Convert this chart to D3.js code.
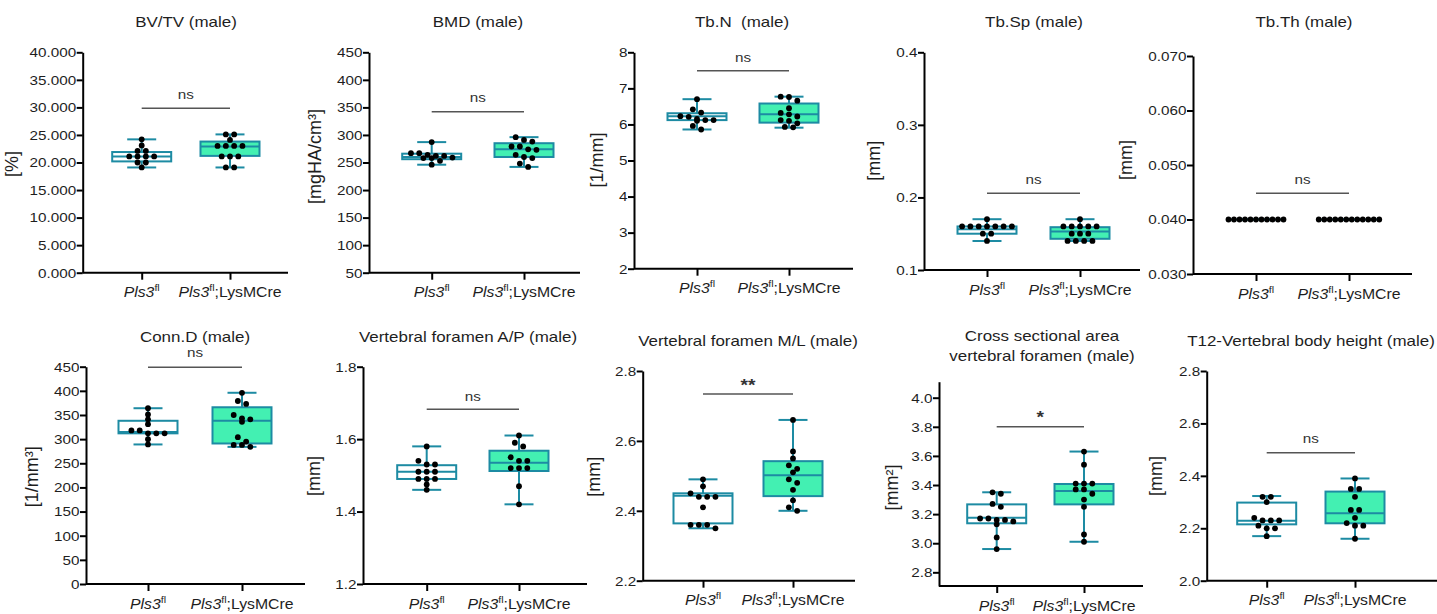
<!DOCTYPE html>
<html>
<head>
<meta charset="utf-8">
<script src="https://cdn.jsdelivr.net/npm/d3@7"></script>
<style>
  body { margin: 0; background: #fff; }
  svg { display: block; font-family: "Liberation Sans", Arial, sans-serif; }
</style>
</head>
<body>
<svg id="chart" width="1437" height="614"></svg>
<script>
// Group labels (italic gene name + superscript + suffix)
const groupNames = ["Pls3", "Pls3"];
const groupSups = ["fl", "fl"];
const groupSuffix = ["", ";LysMCre"];

const titles = [
  ["BV/TV (male)"], ["BMD (male)"], ["Tb.N \u00a0(male)"], ["Tb.Sp (male)"], ["Tb.Th (male)"],
  ["Conn.D (male)"], ["Vertebral foramen A/P (male)"], ["Vertebral foramen M/L (male)"],
  ["Cross sectional area", "vertebral foramen (male)"], ["T12-Vertebral body height (male)"]
];
const yLabels = ["[%]", "[mgHA/cm³]", "[1/mm]", "[mm]", "[mm]", "[1/mm³]", "[mm]", "[mm]", "[mm²]", "[mm]"];
const sigLabels = ["ns", "ns", "ns", "ns", "ns", "ns", "ns", "**", "*", "ns"];

// Individual animals
const bvtvFl  = [24.2, 23.1, 22.1, 22.1, 21.1, 21.1, 21.1, 21.1, 20.0, 20.0, 19.1];
const bvtvCre = [25.1, 25.1, 24.1, 23.0, 23.0, 23.0, 23.0, 21.1, 21.1, 21.1, 19.1, 19.1];
const bmdFl   = [287, 267, 267, 264, 262, 262, 259, 258, 258, 253, 246];
const bmdCre  = [296, 291, 288, 279, 279, 274, 273, 264, 260, 258, 248, 242];
const tbnFl   = [6.70, 6.42, 6.33, 6.23, 6.21, 6.15, 6.12, 6.12, 6.10, 5.96, 5.86];
const tbnCre  = [6.77, 6.76, 6.66, 6.45, 6.32, 6.28, 6.22, 6.12, 6.10, 6.03, 5.93, 5.92];
const tbspFl  = [0.17, 0.16, 0.16, 0.16, 0.16, 0.16, 0.16, 0.16, 0.15, 0.15, 0.14];
const tbspCre = [0.17, 0.16, 0.16, 0.16, 0.16, 0.16, 0.15, 0.15, 0.15, 0.14, 0.14, 0.14, 0.14];
const tbthFl  = [0.04, 0.04, 0.04, 0.04, 0.04, 0.04, 0.04, 0.04, 0.04, 0.04, 0.04];
const tbthCre = [0.04, 0.04, 0.04, 0.04, 0.04, 0.04, 0.04, 0.04, 0.04, 0.04, 0.04, 0.04];
const conndFl  = [364, 351, 341, 331, 318, 318, 312, 312, 312, 300, 289];
const conndCre = [396, 379, 373, 350, 343, 341, 336, 304, 295, 288, 288, 284];
const apFl  = [1.58, 1.54, 1.53, 1.53, 1.51, 1.51, 1.51, 1.49, 1.49, 1.49, 1.475, 1.46];
const apCre = [1.61, 1.59, 1.58, 1.55, 1.54, 1.54, 1.52, 1.52, 1.52, 1.47, 1.42];
const mlFl  = [2.49, 2.47, 2.45, 2.44, 2.44, 2.44, 2.41, 2.36, 2.36, 2.36, 2.35];
const mlCre = [2.66, 2.57, 2.55, 2.53, 2.52, 2.51, 2.49, 2.48, 2.46, 2.43, 2.41, 2.40];
const csaFl  = [3.35, 3.34, 3.27, 3.25, 3.17, 3.17, 3.16, 3.16, 3.15, 3.13, 3.04, 2.96];
const csaCre = [3.63, 3.54, 3.41, 3.41, 3.41, 3.37, 3.37, 3.34, 3.30, 3.25, 3.06, 3.01];
const t12Fl  = [2.32, 2.32, 2.30, 2.24, 2.23, 2.23, 2.23, 2.21, 2.20, 2.20, 2.17];
const t12Cre = [2.39, 2.35, 2.35, 2.32, 2.27, 2.27, 2.24, 2.22, 2.21, 2.21, 2.16];

// Box stats [min, q1, median, q3, max]
const bvtvBoxFl  = [19.1, 20.2, 21.1, 21.9, 24.2];
const bvtvBoxCre = [19.1, 21.2, 22.9, 23.8, 25.1];
const bmdBoxFl   = [246, 256, 260, 266, 287];
const bmdBoxCre  = [242, 260, 274, 285, 296];
const tbnBoxFl   = [5.86, 6.12, 6.23, 6.31, 6.70];
const tbnBoxCre  = [5.91, 6.05, 6.28, 6.58, 6.77];
const tbspBoxFl  = [0.14, 0.15, 0.156, 0.16, 0.17];
const tbspBoxCre = [0.14, 0.143, 0.153, 0.159, 0.17];
const tbthBoxFl  = [0.04, 0.04, 0.04, 0.04, 0.04];
const tbthBoxCre = [0.04, 0.04, 0.04, 0.04, 0.04];
const conndBoxFl  = [289, 312, 315, 338, 364];
const conndBoxCre = [284, 291, 338, 366, 396];
const apBoxFl  = [1.46, 1.49, 1.51, 1.528, 1.58];
const apBoxCre = [1.42, 1.512, 1.535, 1.568, 1.61];
const mlBoxFl  = [2.35, 2.364, 2.443, 2.45, 2.49];
const mlBoxCre = [2.40, 2.442, 2.502, 2.542, 2.66];
const csaBoxFl  = [2.96, 3.137, 3.175, 3.267, 3.35];
const csaBoxCre = [3.01, 3.267, 3.359, 3.407, 3.63];
const t12BoxFl  = [2.17, 2.215, 2.229, 2.298, 2.323];
const t12BoxCre = [2.16, 2.219, 2.257, 2.34, 2.39];

// Y tick values
const bvtvTicks = [0, 5, 10, 15, 20, 25, 30, 35, 40];
const bmdTicks = [50, 100, 150, 200, 250, 300, 350, 400, 450];
const tbnTicks = [2, 3, 4, 5, 6, 7, 8];
const tbspTicks = [0.1, 0.2, 0.3, 0.4];
const tbthTicks = [0.03, 0.04, 0.05, 0.06, 0.07];
const conndTicks = [0, 50, 100, 150, 200, 250, 300, 350, 400, 450];
const apTicks = [1.2, 1.4, 1.6, 1.8];
const mlTicks = [2.2, 2.4, 2.6, 2.8];
const csaTicks = [2.8, 3.0, 3.2, 3.4, 3.6, 3.8, 4.0];
const t12Ticks = [2.0, 2.2, 2.4, 2.6, 2.8];

const panelData = [
  { a: bvtvFl, b: bvtvCre, boxA: bvtvBoxFl, boxB: bvtvBoxCre, ticks: bvtvTicks, fmt: ".3f" },
  { a: bmdFl, b: bmdCre, boxA: bmdBoxFl, boxB: bmdBoxCre, ticks: bmdTicks, fmt: "d" },
  { a: tbnFl, b: tbnCre, boxA: tbnBoxFl, boxB: tbnBoxCre, ticks: tbnTicks, fmt: "d" },
  { a: tbspFl, b: tbspCre, boxA: tbspBoxFl, boxB: tbspBoxCre, ticks: tbspTicks, fmt: ".1f" },
  { a: tbthFl, b: tbthCre, boxA: tbthBoxFl, boxB: tbthBoxCre, ticks: tbthTicks, fmt: ".3f", spacing: 5.5 },
  { a: conndFl, b: conndCre, boxA: conndBoxFl, boxB: conndBoxCre, ticks: conndTicks, fmt: "d" },
  { a: apFl, b: apCre, boxA: apBoxFl, boxB: apBoxCre, ticks: apTicks, fmt: ".1f" },
  { a: mlFl, b: mlCre, boxA: mlBoxFl, boxB: mlBoxCre, ticks: mlTicks, fmt: ".1f" },
  { a: csaFl, b: csaCre, boxA: csaBoxFl, boxB: csaBoxCre, ticks: csaTicks, fmt: ".1f", domain: [2.706, 4.11] },
  { a: t12Fl, b: t12Cre, boxA: t12BoxFl, boxB: t12BoxCre, ticks: t12Ticks, fmt: ".1f" }
];

// Panel placement in page pixels
const layout = [
  { ax: 82.7, xEnd: 288, yTop: 52.3, yBot: 272.7, gx: [141.7, 230], tx: 186, ty: 27, lx: 18, ly: 164, sigY: 108.3, sigT: 98.5 },
  { ax: 369, xEnd: 580, yTop: 52.3, yBot: 272.7, gx: [431.7, 524], tx: 478, ty: 27, lx: 321, ly: 156.5, sigY: 111.7, sigT: 101.7 },
  { ax: 634, xEnd: 853, yTop: 52.3, yBot: 268.7, gx: [697, 789], tx: 742, ty: 27, lx: 603, ly: 160, sigY: 70.7, sigT: 61.7 },
  { ax: 924, xEnd: 1140, yTop: 52.3, yBot: 270, gx: [987, 1080], tx: 1034, ty: 27, lx: 880, ly: 160.8, sigY: 193.3, sigT: 183.5 },
  { ax: 1193, xEnd: 1412, yTop: 56, yBot: 274, gx: [1256, 1349], tx: 1304, ty: 27, lx: 1131.5, ly: 160, sigY: 193.3, sigT: 184 },
  { ax: 86, xEnd: 305, yTop: 366.7, yBot: 584, gx: [148, 242], tx: 195, ty: 341.7, lx: 38, ly: 476.7, sigY: 367.3, sigT: 357.3 },
  { ax: 363, xEnd: 587, yTop: 366.7, yBot: 584, gx: [426.7, 519], tx: 468, ty: 342.3, lx: 320, ly: 476, sigY: 409.3, sigT: 400.7 },
  { ax: 642.7, xEnd: 855, yTop: 371, yBot: 580.7, gx: [703, 793], tx: 748, ty: 346, lx: 600, ly: 476.7, sigY: 394, sigT: 391 },
  { ax: 939, xEnd: 1143, yTop: 381.7, yBot: 586, gx: [996.7, 1084], tx: 1042, ty: 340.7, lx: 898, ly: 487.5, sigY: 426.7, sigT: 423 },
  { ax: 1206.7, xEnd: 1437, yTop: 371, yBot: 580.7, gx: [1266.7, 1355], tx: 1311, ty: 345.7, lx: 1162, ly: 476, sigY: 452.7, sigT: 443.3 }
];

const SX = 1.13;          // source figure is slightly stretched horizontally
const teal = "#1d8ba3";
const mint = "#43f0b2";
const ink = "#1e1e1e";
const boxW = 59, capW = 29, dotR = 2.9;

const svg = d3.select("#chart");

function stext(g, x, y, str, size, opts = {}) {
  return g.append("text")
    .attr("transform", `translate(${x},${y}) scale(${SX},1)`)
    .attr("text-anchor", opts.anchor || "middle")
    .attr("font-size", size)
    .attr("font-weight", opts.weight || "normal")
    .attr("fill", opts.fill || ink)
    .text(str);
}

// simple row-based beeswarm
function swarm(vals, y, spacing, cx) {
  const sorted = vals.slice().sort((p, q) => q - p);
  const out = [];
  let row = [];
  const flush = () => {
    row.forEach((v, i) => out.push({ v, x: cx + (i - (row.length - 1) / 2) * spacing }));
    row = [];
  };
  sorted.forEach(v => {
    if (row.length && Math.abs(y(row[0]) - y(v)) > 4.5) flush();
    row.push(v);
  });
  flush();
  return out;
}

function drawBox(g, stats, cx, y, fill) {
  const [mn, q1, med, q3, mx] = stats;
  g.append("line").attr("x1", cx).attr("x2", cx).attr("y1", y(mx)).attr("y2", y(q3))
    .attr("stroke", teal).attr("stroke-width", 2);
  g.append("line").attr("x1", cx).attr("x2", cx).attr("y1", y(q1)).attr("y2", y(mn))
    .attr("stroke", teal).attr("stroke-width", 2);
  [mx, mn].forEach(v => {
    g.append("line").attr("x1", cx - capW / 2).attr("x2", cx + capW / 2)
      .attr("y1", y(v)).attr("y2", y(v))
      .attr("stroke", teal).attr("stroke-width", 2);
  });
  g.append("rect")
    .attr("x", cx - boxW / 2).attr("y", y(q3))
    .attr("width", boxW).attr("height", Math.max(0, y(q1) - y(q3)))
    .attr("fill", fill).attr("stroke", teal).attr("stroke-width", 2);
  g.append("line").attr("x1", cx - boxW / 2).attr("x2", cx + boxW / 2)
    .attr("y1", y(med)).attr("y2", y(med))
    .attr("stroke", teal).attr("stroke-width", 2);
}

panelData.forEach((p, i) => {
  const L = layout[i];
  const g = svg.append("g");

  const dom = p.domain || [p.ticks[0], p.ticks[p.ticks.length - 1]];
  const y = d3.scaleLinear().domain(dom).range([L.yBot, L.yTop]);
  const x = d3.scalePoint().domain([0, 1]).range(L.gx);

  // Y axis
  const yAxis = g.append("g")
    .attr("transform", `translate(${L.ax},0)`)
    .call(d3.axisLeft(y).tickValues(p.ticks).tickFormat(d3.format(p.fmt)).tickSize(6).tickSizeOuter(0));
  yAxis.select(".domain").attr("stroke", "#000").attr("stroke-width", 2);
  yAxis.selectAll(".tick line").attr("stroke", "#000").attr("stroke-width", 2);
  yAxis.selectAll(".tick text")
    .attr("x", -6.5 / SX)
    .attr("transform", `scale(${SX},1)`)
    .attr("font-size", 13.5)
    .attr("font-family", "Liberation Sans, Arial, sans-serif")
    .attr("fill", ink);

  // X axis
  g.append("line")
    .attr("x1", L.ax).attr("x2", L.xEnd).attr("y1", L.yBot).attr("y2", L.yBot)
    .attr("stroke", "#000").attr("stroke-width", 2);
  const xAxis = g.append("g")
    .attr("transform", `translate(0,${L.yBot})`)
    .call(d3.axisBottom(x).tickSize(7).tickFormat(""));
  xAxis.select(".domain").remove();
  xAxis.selectAll(".tick line").attr("stroke", "#000").attr("stroke-width", 2);

  [0, 1].forEach(k => {
    const t = g.append("text")
      .attr("transform", `translate(${x(k)},${L.yBot + 24.5}) scale(${SX},1)`)
      .attr("text-anchor", "middle")
      .attr("font-size", 14)
      .attr("fill", ink);
    t.append("tspan").attr("font-style", "italic").text(groupNames[k]);
    t.append("tspan").attr("font-size", 9.5).attr("dy", -6).text(groupSups[k]);
    if (groupSuffix[k]) t.append("tspan").attr("dy", 6).text(groupSuffix[k]);
  });

  // Boxes
  drawBox(g, p.boxA, x(0), y, "#ffffff");
  drawBox(g, p.boxB, x(1), y, mint);

  // Dots
  const spacing = p.spacing || 8.3;
  [[p.a, 0], [p.b, 1]].forEach(([vals, k]) => {
    g.selectAll(null)
      .data(swarm(vals, y, spacing, x(k)))
      .enter().append("circle")
      .attr("cx", d => d.x)
      .attr("cy", d => y(d.v))
      .attr("r", dotR)
      .attr("fill", "#000");
  });

  // Significance bar
  g.append("line")
    .attr("x1", x(0)).attr("x2", x(1)).attr("y1", L.sigY).attr("y2", L.sigY)
    .attr("stroke", "#555").attr("stroke-width", 1.5);
  const star = sigLabels[i] !== "ns";
  stext(g, (x(0) + x(1)) / 2, L.sigT, sigLabels[i], star ? 17 : 13.5,
    { weight: star ? "bold" : "normal", fill: "#333" });

  // Title
  titles[i].forEach((line, j) => stext(g, L.tx, L.ty + j * 20, line, 15));

  // Y label
  g.append("text")
    .attr("transform", `translate(${L.lx},${L.ly}) rotate(-90)`)
    .attr("text-anchor", "middle")
    .attr("font-size", 18)
    .attr("fill", ink)
    .text(yLabels[i]);
});
</script>
</body>
</html>
